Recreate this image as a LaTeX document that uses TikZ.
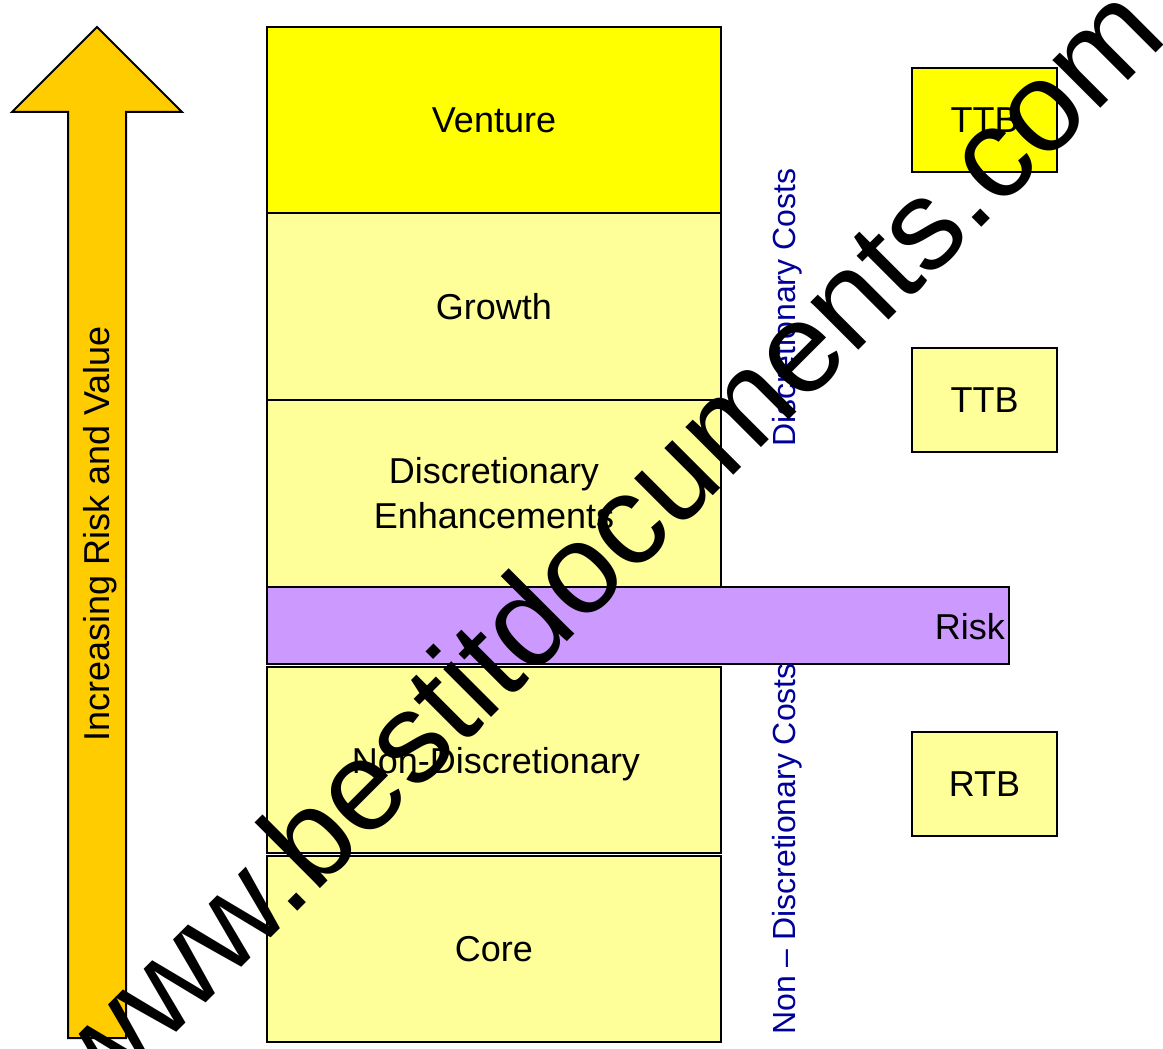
\documentclass[tikz,border=0pt]{standalone}
\usepackage{fontspec}
\setmainfont{Liberation Sans}
\definecolor{venture}{HTML}{FFFF00}
\definecolor{pale}{HTML}{FFFF99}
\definecolor{riskc}{HTML}{CC99FF}
\definecolor{arrowc}{HTML}{FFCC00}
\definecolor{navyc}{HTML}{000099}
\begin{document}
\begin{tikzpicture}[x=1pt,y=-1pt,
  box/.style={draw=black, line width=1.8pt, inner sep=0pt, outer sep=0pt, font=\fontsize{36}{45}\selectfont, align=center},
  colbox/.style={box, minimum width=454pt, minimum height=186pt},
  sidebox/.style={box, minimum width=145pt, minimum height=104pt},
  costlabel/.style={text=navyc, font=\fontsize{32}{38}\selectfont, rotate=90, anchor=base, inner sep=0pt},
  wmark/.style={text=black, font=\fontsize{128}{150}\selectfont, rotate=45, anchor=base, inner sep=0pt}
]
\useasboundingbox (0,0) rectangle (1163,1049);
% big arrow
\draw[fill=arrowc, line width=2pt, line join=miter]
  (97,27) -- (182,112) -- (126,112) -- (126,1038) -- (68,1038) -- (68,112) -- (12,112) -- cycle;
\node[rotate=90, anchor=base, inner sep=0pt, font=\fontsize{36}{45}\selectfont] (axis) at (109,534) {Increasing Risk and Value};
% column
\node[colbox, fill=venture] (venture) at (494,120) {Venture};
\node[colbox, fill=pale, minimum height=187pt] (growth) at (494,306.5) {Growth};
\node[colbox, fill=pale, minimum height=187pt] (disc) at (494,493.5) {Discretionary\\Enhancements};
\node[box, fill=riskc, minimum width=742pt, minimum height=77pt] (risk) at (638,625.5) {};
\node[inner sep=0pt, anchor=base east, font=\fontsize{36}{45}\selectfont] (risklabel) at (1005,639) {Risk};
\node[colbox, fill=pale] (nondisc) at (494,760) {};
\node[inner sep=0pt, anchor=base, font=\fontsize{36}{45}\selectfont] (nondisclabel) at (496,773) {Non-Discretionary};
\node[colbox, fill=pale] (core) at (494,949) {Core};
% side boxes
\node[sidebox, fill=venture] (ttba) at (984.5,120) {TTB};
\node[sidebox, fill=pale] (ttbb) at (984.5,400) {TTB};
\node[sidebox, fill=pale] (rtb) at (984.5,784) {RTB};
% cost labels
\node[costlabel] (dcost) at (795,307.5) {Discretionary Costs};
\node[costlabel] (ndcost) at (795,849) {Non – Discretionary Costs};
% watermark
\node[wmark] (wm) at (634,575) {www.bestitdocuments.com};
\end{tikzpicture}
\end{document}
